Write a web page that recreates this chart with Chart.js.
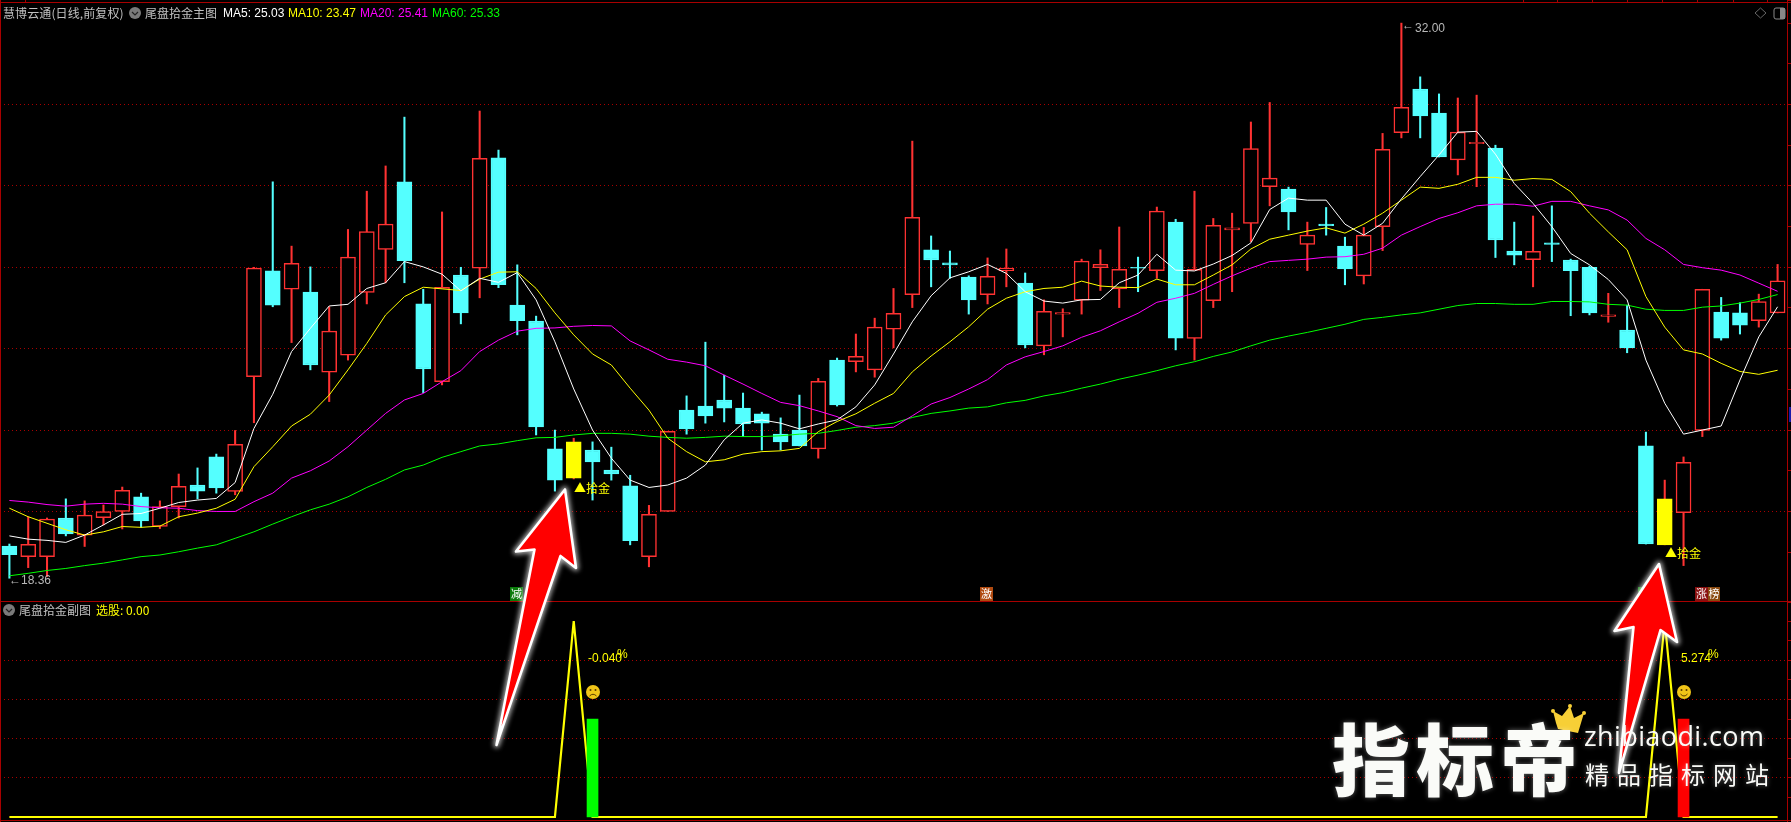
<!DOCTYPE html>
<html lang="zh">
<head>
<meta charset="utf-8">
<title>尾盘拾金主图</title>
<script src="https://cdn.jsdelivr.net/npm/chart.js@4"></script>
<style>
    html, body { margin: 0; padding: 0; background: #000; overflow: hidden; }
    #stage { position: relative; width: 1791px; height: 822px; background: #000; overflow: hidden; }
    #stage canvas { position: absolute; left: 0; }
    #overlay { position: absolute; left: 0; top: 0; }
    .rule { position: absolute; background: #a80000; }
    .txt { position: absolute; white-space: nowrap; line-height: 14px; font: 12px/14px "Noto Sans CJK SC", sans-serif; }
    .badge { position: absolute; color: #fff; font: 11px/13px "Noto Sans CJK SC", sans-serif; text-align: center; height: 14px; }
    .mark { position: absolute; white-space: nowrap; color: #fafbf8; font-family: "Noto Sans CJK SC", sans-serif; text-shadow: 0 0 5px rgba(255,255,255,.4); }
</style>
</head>
<body>
<div id="stage">
    <canvas id="mainChart" width="1791" height="601" style="top:0"></canvas>
    <canvas id="subChart" width="1791" height="220" style="top:602px"></canvas>
    <div class="rule" style="left:0;top:2px;width:1791px;height:1px"></div>
    <div class="rule" style="left:0;top:0;width:1px;height:822px"></div>
    <div class="rule" style="left:0;top:601px;width:1791px;height:1px"></div>
    <div class="rule" style="left:0;top:820px;width:1791px;height:1px"></div>
    <div class="rule" style="left:1789px;top:407px;width:2px;height:15px;background:#1a1aa8"></div>
    <div class="badge" style="left:510px;top:587px;width:13px;background:#0a7a0a">减</div>
    <div class="badge" style="left:980px;top:587px;width:13px;background:#b04a10">激</div>
    <div class="badge" style="left:1638px;top:587px;width:5px;height:5px;background:#0a7a0a"></div>
    <div class="badge" style="left:1695px;top:587px;width:13px;background:#8a1010">涨</div>
    <div class="badge" style="left:1708px;top:587px;width:12px;background:#8a4a10">榜</div>
    <svg id="overlay" width="1791" height="822" xmlns="http://www.w3.org/2000/svg">
        <defs>
            <filter id="glow" x="-30%" y="-30%" width="160%" height="160%">
                <feGaussianBlur stdDeviation="2.5"/>
            </filter>
        </defs>
        <!-- 图标 -->
        <circle cx="135" cy="13" r="6" fill="#7a7a7a"/>
        <polyline points="132,12 135,15 138,12" fill="none" stroke="#222" stroke-width="1.2"/>
        <circle cx="9" cy="610" r="6" fill="#7a7a7a"/>
        <polyline points="6,609 9,612 12,609" fill="none" stroke="#222" stroke-width="1.2"/>
        <polygon points="1760.5,8 1766,13 1760.5,18 1755,13" fill="none" stroke="#666" stroke-width="1"/>
        <rect x="1774" y="8" width="11" height="11" rx="2" fill="none" stroke="#888" stroke-width="1"/>
        <rect x="1780" y="8" width="5" height="11" fill="#888"/>
        <!-- 笑脸 / 哭脸 -->
        <circle cx="593" cy="692" r="7" fill="#f0c418"/>
        <circle cx="590.5" cy="690" r="1" fill="#5a3a00"/>
        <circle cx="595.5" cy="690" r="1" fill="#5a3a00"/>
        <path d="M589.5 696 Q593 692.5 596.5 696" fill="none" stroke="#5a3a00" stroke-width="1"/>
        <circle cx="1684" cy="692" r="7" fill="#f0c418"/>
        <circle cx="1681.5" cy="690" r="1" fill="#5a3a00"/>
        <circle cx="1686.5" cy="690" r="1" fill="#5a3a00"/>
        <path d="M1680.5 694 Q1684 698 1687.5 694" fill="none" stroke="#5a3a00" stroke-width="1"/>
        <!-- 红色箭头 -->
        <g stroke-linejoin="round">
            <polygon points="565,489.5 576,568 560.5,556 496.5,745 534.5,549.5 516,551.5" fill="#fff" stroke="#fff" stroke-width="6" filter="url(#glow)" opacity=".7"/>
            <polygon points="565,489.5 576,568 560.5,556 496.5,745 534.5,549.5 516,551.5" fill="#ff0000" stroke="#fff" stroke-width="2.6"/>
            <polygon points="1659,564 1677,642 1660.5,630 1619,773 1633.5,627 1614.5,631" fill="#fff" stroke="#fff" stroke-width="6" filter="url(#glow)" opacity=".7"/>
            <polygon points="1659,564 1677,642 1660.5,630 1619,773 1633.5,627 1614.5,631" fill="#ff0000" stroke="#fff" stroke-width="2.6"/>
        </g>
        <!-- 皇冠 -->
        <g fill="#f7cf36">
            <polygon points="1556,723 1553,711 1562,716 1570,706 1574,718 1584,713 1578,733 1558,729"/>
            <circle cx="1553" cy="711" r="2"/>
            <circle cx="1570" cy="706" r="2"/>
            <circle cx="1584" cy="713" r="2"/>
        </g>
    </svg>
    <div class="mark" style="left:1332px;top:698px;font-size:78px;line-height:116px;font-weight:900;letter-spacing:6px">指标帝</div>
    <div class="mark" style="left:1584px;top:716px;font-size:27px;line-height:40px;letter-spacing:.4px;font-family:'Open Sans',sans-serif">zhibiaodi.com</div>
    <div class="mark" style="left:1585px;top:757px;font-size:24px;line-height:34px;letter-spacing:8px">精品指标网站</div>
</div>
<script>
// K线数据
const highs = [19.20, 19.87, 19.84, 20.31, 20.26, 20.16, 20.60, 20.45, 20.26, 20.92,
    21.07, 21.41, 21.99, 26.00, 28.10, 26.52, 26.01, 25.03, 26.93, 27.87,
    28.49, 29.69, 25.46, 27.36, 26.00, 29.84, 28.88, 26.06, 24.80, 22.00,
    21.80, 21.71, 21.58, 20.89, 20.15, 21.97, 22.84, 24.16, 23.35, 22.91,
    22.44, 22.30, 22.86, 23.27, 23.77, 24.36, 24.75, 25.48, 29.10, 26.77,
    26.40, 25.79, 26.23, 26.45, 25.86, 25.20, 24.98, 26.20, 26.43, 26.99,
    26.25, 27.48, 27.18, 27.87, 27.20, 27.33, 29.57, 30.05, 27.97, 27.11,
    27.47, 26.74, 26.98, 29.29, 32.00, 30.68, 30.26, 30.16, 30.23, 29.00,
    27.11, 27.26, 27.51, 26.20, 26.03, 25.36, 25.07, 21.95, 20.77, 21.34,
    25.46, 25.26, 25.13, 25.34, 26.07];
const lows = [18.36, 18.62, 18.40, 19.40, 19.14, 19.67, 19.57, 19.61, 19.58, 19.84,
    20.31, 20.45, 20.41, 22.18, 25.03, 24.15, 23.48, 22.70, 23.72, 25.10,
    25.62, 25.62, 22.92, 23.11, 24.61, 25.25, 25.50, 24.34, 21.88, 20.50,
    20.80, 20.28, 20.77, 19.18, 18.64, 20.00, 21.90, 22.17, 22.20, 21.84,
    21.51, 21.51, 21.61, 21.31, 22.59, 23.43, 23.30, 24.02, 25.01, 25.52,
    25.73, 24.85, 25.10, 25.52, 24.02, 23.85, 24.29, 24.85, 25.43, 25.01,
    25.40, 25.73, 23.97, 23.72, 25.01, 25.40, 26.63, 27.51, 26.92, 25.92,
    26.79, 25.57, 25.59, 26.41, 29.18, 29.18, 28.71, 28.27, 27.98, 26.24,
    26.06, 25.52, 26.14, 24.81, 24.83, 24.65, 23.90, 19.20, 19.18, 18.67,
    21.84, 24.21, 24.36, 24.53, 24.88];
const opens = [19.15, 18.89, 18.89, 19.84, 19.42, 19.85, 20.00, 20.36, 19.63, 20.12,
    20.65, 21.34, 20.49, 23.31, 25.91, 25.46, 25.39, 23.42, 23.84, 25.38,
    26.44, 28.10, 25.10, 23.19, 25.81, 25.98, 28.69, 25.07, 24.68, 21.54,
    20.82, 21.51, 21.02, 20.63, 18.89, 20.00, 22.49, 22.59, 22.74, 22.54,
    22.40, 21.90, 22.00, 21.54, 23.72, 23.68, 23.48, 24.48, 25.33, 26.43,
    26.11, 25.76, 25.33, 25.92, 25.61, 24.07, 24.85, 25.19, 25.99, 25.47,
    26.00, 25.92, 27.11, 24.25, 25.18, 26.92, 27.08, 27.98, 27.92, 26.56,
    27.06, 26.52, 25.79, 27.00, 29.31, 30.38, 29.79, 28.64, 29.04, 28.93,
    26.40, 26.19, 26.60, 26.18, 26.00, 24.79, 24.46, 21.61, 19.18, 19.97,
    21.99, 24.90, 24.88, 24.69, 24.88];
const closes = [18.94, 19.19, 19.81, 19.45, 19.91, 20.00, 20.52, 19.77, 20.12, 20.62,
    20.50, 20.58, 21.65, 25.98, 25.07, 26.10, 23.60, 24.43, 26.25, 26.88,
    27.06, 26.16, 23.50, 25.51, 24.88, 28.68, 25.57, 24.69, 22.08, 20.77,
    21.71, 21.22, 20.92, 19.28, 19.93, 21.97, 22.03, 22.35, 22.54, 22.15,
    22.17, 21.71, 21.61, 23.20, 22.62, 23.81, 24.53, 24.87, 27.23, 26.18,
    26.06, 25.20, 25.78, 25.98, 24.09, 24.92, 24.89, 26.15, 26.07, 25.95,
    25.98, 27.38, 24.26, 25.95, 27.03, 26.97, 28.92, 28.19, 27.36, 26.79,
    27.02, 25.96, 26.79, 28.90, 29.93, 29.72, 28.71, 29.32, 29.07, 26.67,
    26.30, 26.39, 26.56, 25.92, 24.88, 24.83, 24.02, 19.20, 20.31, 21.21,
    25.46, 24.26, 24.58, 25.16, 25.67];

// 均线
const ma5 = [19.40, 19.32, 19.29, 19.24, 19.42, 19.67, 19.93, 19.95, 20.08, 20.22,
    20.28, 20.32, 20.71, 22.04, 22.88, 23.93, 24.50, 25.05, 25.09, 25.48,
    25.62, 26.14, 26.01, 25.83, 25.42, 25.73, 25.63, 25.87, 25.20, 24.17,
    23.01, 22.00, 21.31, 20.77, 20.59, 20.65, 20.82, 21.14, 21.76, 22.17,
    22.25, 22.17, 22.03, 22.15, 22.25, 22.57, 23.11, 23.87, 24.66, 25.30,
    25.74, 25.89, 26.07, 25.85, 25.40, 25.17, 25.12, 25.20, 25.21, 25.62,
    25.81, 26.32, 25.93, 25.91, 26.08, 26.29, 26.60, 27.42, 27.70, 27.65,
    27.65, 27.06, 26.79, 27.08, 27.68, 28.23, 28.76, 29.32, 29.34, 28.78,
    28.06, 27.57, 27.00, 26.34, 26.06, 25.70, 25.20, 23.72, 22.66, 21.90,
    22.00, 22.10, 23.23, 24.29, 25.03];
const ma10 = [20.08, 19.87, 19.71, 19.55, 19.42, 19.50, 19.63, 19.61, 19.64, 19.87,
    19.96, 20.08, 20.30, 21.10, 21.59, 22.10, 22.39, 22.86, 23.48, 24.13,
    24.83, 25.28, 25.51, 25.47, 25.43, 25.71, 25.88, 25.89, 25.48, 24.88,
    24.34, 23.87, 23.60, 23.03, 22.49, 21.80, 21.47, 21.22, 21.27, 21.41,
    21.47, 21.49, 21.55, 21.96, 22.21, 22.40, 22.66, 22.90, 23.43, 23.82,
    24.17, 24.54, 24.97, 25.24, 25.40, 25.48, 25.51, 25.66, 25.54, 25.51,
    25.50, 25.71, 25.57, 25.57, 25.81, 26.06, 26.45, 26.69, 26.79, 26.89,
    26.97, 26.84, 27.06, 27.33, 27.65, 27.97, 27.94, 28.04, 28.21, 28.21,
    28.14, 28.18, 28.16, 27.86, 27.33, 26.87, 26.43, 25.28, 24.53, 23.97,
    23.87, 23.64, 23.44, 23.37, 23.47];
const ma20 = [20.27, 20.23, 20.17, 20.13, 20.18, 20.20, 20.18, 20.12, 20.09, 20.08,
    20.02, 20.00, 20.00, 20.24, 20.45, 20.82, 21.00, 21.24, 21.59, 22.00,
    22.41, 22.74, 22.90, 23.19, 23.46, 23.93, 24.21, 24.43, 24.50, 24.51,
    24.55, 24.57, 24.56, 24.19, 23.97, 23.74, 23.67, 23.58, 23.35, 23.13,
    22.90, 22.68, 22.60, 22.47, 22.33, 22.11, 22.04, 22.07, 22.35, 22.64,
    22.80, 23.01, 23.24, 23.60, 23.80, 23.93, 24.07, 24.28, 24.44, 24.66,
    24.87, 25.14, 25.24, 25.36, 25.58, 25.79, 25.98, 26.14, 26.17, 26.20,
    26.25, 26.26, 26.32, 26.47, 26.79, 27.00, 27.20, 27.34, 27.51, 27.55,
    27.55, 27.50, 27.62, 27.62, 27.51, 27.41, 27.16, 26.71, 26.43, 26.07,
    25.99, 25.93, 25.81, 25.61, 25.41];
const ma60 = [18.42, 18.48, 18.55, 18.60, 18.67, 18.73, 18.81, 18.89, 18.93, 19.01,
    19.10, 19.18, 19.34, 19.50, 19.69, 19.87, 20.04, 20.18, 20.36, 20.59,
    20.79, 21.02, 21.14, 21.33, 21.47, 21.61, 21.66, 21.74, 21.81, 21.82,
    21.88, 21.92, 21.92, 21.90, 21.85, 21.82, 21.80, 21.82, 21.85, 21.84,
    21.84, 21.86, 21.90, 21.92, 21.99, 22.07, 22.11, 22.17, 22.31, 22.41,
    22.47, 22.54, 22.57, 22.67, 22.73, 22.84, 22.92, 23.03, 23.13, 23.25,
    23.35, 23.46, 23.58, 23.68, 23.81, 23.92, 24.07, 24.21, 24.31, 24.40,
    24.50, 24.60, 24.72, 24.77, 24.83, 24.88, 24.97, 25.06, 25.11, 25.11,
    25.09, 25.09, 25.16, 25.16, 25.15, 25.09, 25.07, 24.97, 24.94, 24.94,
    25.02, 25.05, 25.12, 25.21, 25.33];

// 副图：选股信号线和结果柱
const xuangu = [0, 0, 0, 0, 0, 0, 0, 0, 0, 0, 0, 0, 0, 0, 0, 0, 0, 0, 0, 0,
    0, 0, 0, 0, 0, 0, 0, 0, 0, 0, 1, 0, 0, 0, 0, 0, 0, 0, 0, 0,
    0, 0, 0, 0, 0, 0, 0, 0, 0, 0, 0, 0, 0, 0, 0, 0, 0, 0, 0, 0,
    0, 0, 0, 0, 0, 0, 0, 0, 0, 0, 0, 0, 0, 0, 0, 0, 0, 0, 0, 0,
    0, 0, 0, 0, 0, 0, 0, 0, 1, 0, 0, 0, 0, 0, 0];
const signalDays = [30, 88];
const resultDays = [31, 89];
const resultHeight = 0.5;

const days = highs.map((_, i) => i);
const CYAN = '#54ffff', RED = '#ff3232', YELLOW = '#ffff00';
const isUp = i => closes[i] >= opens[i];

const dottedGrid = { color: '#a80000', width: 1, dash: [1, 3] };

function rightAxis(min, max, step, isGridTick) {
    return {
        position: 'right',
        min, max,
        ticks: { display: false, stepSize: step },
        afterFit: s => { s.width = 4; },
        border: { color: '#a80000', width: 1, dash: dottedGrid.dash },
        grid: {
            tickLength: 4,
            tickColor: '#a80000',
            color: ctx => isGridTick(ctx.tick.value) ? dottedGrid.color : 'rgba(0,0,0,0)'
        }
    };
}

function maLine(data, color, order) {
    return { type: 'line', data, borderColor: color, borderWidth: 1, pointRadius: 0, tension: 0, order };
}

new Chart(document.getElementById('mainChart'), {
    type: 'bar',
    data: {
        labels: days,
        datasets: [
            {
                // 影线
                data: days.map(i => [lows[i], highs[i]]),
                backgroundColor: days.map(i => isUp(i) ? RED : CYAN),
                borderWidth: 0,
                barThickness: 1.4,
                grouped: false,
                order: 6
            },
            {
                // 实体：阳线空心，阴线实心，信号日黄色
                data: days.map(i => [opens[i], closes[i]]),
                backgroundColor: days.map(i => signalDays.includes(i) ? YELLOW : (isUp(i) ? '#000' : CYAN)),
                borderColor: days.map(i => signalDays.includes(i) ? YELLOW : (isUp(i) ? RED : CYAN)),
                borderWidth: 1.5,
                borderSkipped: false,
                barThickness: 15,
                grouped: false,
                order: 5
            },
            maLine(ma60, '#00ff00', 4),
            maLine(ma20, '#ff00ff', 3),
            maLine(ma10, '#ffff00', 2),
            maLine(ma5, '#ffffff', 1)
        ]
    },
    options: {
        responsive: false,
        animation: false,
        devicePixelRatio: 1,
        layout: { padding: 0 },
        plugins: { legend: { display: false }, tooltip: { enabled: false } },
        scales: {
            x: { display: false, offset: true },
            y: rightAxis(17.8, 32.568, 1, v => v >= 20 && v <= 30 && v % 2 === 0)
        }
    }
});

new Chart(document.getElementById('subChart'), {
    type: 'bar',
    data: {
        labels: days,
        datasets: [
            {
                data: days.map(i => resultDays.includes(i) ? resultHeight : null),
                backgroundColor: days.map(i => i === resultDays[0] ? '#00ff00' : '#ff0000'),
                borderWidth: 0,
                barThickness: 11,
                grouped: false,
                order: 1
            },
            { type: 'line', data: xuangu, borderColor: '#ffff00', borderWidth: 2.2, pointRadius: 0, tension: 0, order: 2 }
        ]
    },
    options: {
        responsive: false,
        animation: false,
        devicePixelRatio: 1,
        layout: { padding: 0 },
        plugins: { legend: { display: false }, tooltip: { enabled: false } },
        scales: {
            x: { display: false, offset: true },
            y: rightAxis(-0.0255, 1.097, 0.1, v => {
                const n = Math.round(v * 10);
                return n >= 2 && n <= 8 && n % 2 === 0;
            })
        }
    }
});

// 文字标注
const stage = document.getElementById('stage');
function label(text, x, y, color, extra) {
    const el = document.createElement('div');
    el.className = 'txt';
    el.textContent = text;
    el.style.left = x + 'px';
    el.style.top = (y - 7) + 'px';
    el.style.color = color;
    if (extra) el.style.cssText += extra;
    stage.insertBefore(el, document.getElementById('overlay'));
}
const latin = 'font-family:"Liberation Sans",sans-serif;font-size:12px;';
label('慧博云通(日线,前复权)', 3, 13, '#c0c0c0', 'letter-spacing:.1px');
label('尾盘拾金主图', 145, 13, '#c0c0c0');
label('MA5: 25.03', 223, 13, '#ffffff', latin);
label('MA10: 23.47', 288, 13, '#ffff00', latin);
label('MA20: 25.41', 360, 13, '#ff00ff', latin);
label('MA60: 25.33', 432, 13, '#00ff00', latin);
label('尾盘拾金副图', 19, 610, '#c0c0c0');
label('选股: 0.00', 96, 610, '#ffff00');
label('32.00', 1415, 28, '#b8b8b8', latin);
label('←', 1402, 25, '#b8b8b8', latin);
label('←18.36', 9, 580, '#b8b8b8', latin);
label('▲拾金', 574, 488, '#ffff00');
label('▲拾金', 1665, 553, '#ffff00');
label('-0.040', 588, 658, '#ffff00', latin);
label('%', 617, 654, '#ffff00', latin);
label('5.274', 1681, 658, '#ffff00', latin);
label('%', 1708, 654, '#ffff00', latin);

// 顶部刻度
[25, 1523, 1557, 1592, 1627, 1662, 1697, 1733, 1767].forEach(x => {
    const tick = document.createElement('div');
    tick.className = 'rule';
    tick.style.cssText = `left:${x}px;top:0;width:1px;height:3px`;
    stage.appendChild(tick);
});
</script>
</body>
</html>
